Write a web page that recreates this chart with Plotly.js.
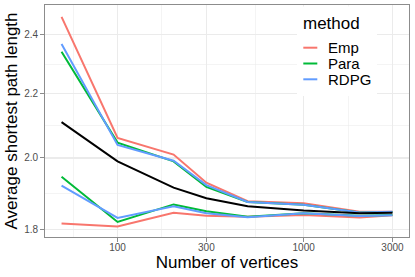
<!DOCTYPE html>
<html><head><meta charset="utf-8">
<script src="https://cdn.plot.ly/plotly-3.0.1.min.js"></script>
<style>html,body{margin:0;padding:0;background:#fff}#chart{width:415px;height:277px}</style>
</head><body><div id="chart"></div>
<script>
// Data
const vertices  = [50, 100, 200, 300, 500, 1000, 2000, 3000];
const empUpper  = [2.465, 2.060, 2.010, 1.928, 1.876, 1.870, 1.847, 1.847];
const empLower  = [1.815, 1.807, 1.844, 1.836, 1.833, 1.838, 1.831, 1.837];
const paraUpper = [2.341, 2.046, 1.990, 1.916, 1.874, 1.866, 1.845, 1.846];
const paraLower = [1.945, 1.819, 1.867, 1.848, 1.833, 1.843, 1.836, 1.838];
const rdpgUpper = [2.368, 2.039, 1.992, 1.921, 1.874, 1.866, 1.845, 1.847];
const rdpgLower = [1.920, 1.830, 1.862, 1.843, 1.832, 1.843, 1.835, 1.837];
const overall   = [2.109, 1.990, 1.914, 1.884, 1.862, 1.850, 1.843, 1.844];
const methods   = ["Emp", "Para", "RDPG"];
const xTicks    = [100, 300, 1000, 3000];
const yTicks    = [1.8, 2.0, 2.2, 2.4];

const colors = {Emp: "#F8766D", Para: "#00BA38", RDPG: "#619CFF"};
const series = {Emp: [empUpper, empLower], Para: [paraUpper, paraLower], RDPG: [rdpgUpper, rdpgLower]};

const traces = [];
methods.forEach(m => {
  series[m].forEach(vals => {
    traces.push({x: vertices, y: vals, type: "scatter", mode: "lines", name: m,
      line: {color: colors[m], width: 2}, showlegend: false, hoverinfo: "skip"});
  });
});
traces.push({x: vertices, y: overall, type: "scatter", mode: "lines", name: "overall",
  line: {color: "#000000", width: 2}, showlegend: false, hoverinfo: "skip"});

// layout geometry helpers (pixel -> paper)
const L = 45, R = 409, T = 5, B = 237;
const px = x => (x - L) / (R - L);
const py = y => (B - y) / (B - T);

const font = "Liberation Sans, Arial, sans-serif";
const border = "#8c8c8c";
const grid = "#EBEBEB";

const shapes = [
  {type: "rect", xref: "paper", yref: "paper", x0: px(297), x1: px(377), y0: py(96), y1: py(6.5),
   fillcolor: "#ffffff", line: {width: 0}, layer: "above"}
];
const legendY = [47.7, 63.5, 79.3];
methods.forEach((m, i) => {
  shapes.push({type: "line", xref: "paper", yref: "paper", x0: px(303.3), x1: px(317.3),
    y0: py(legendY[i]), y1: py(legendY[i]), line: {color: colors[m], width: 2}, layer: "above"});
});
const annotations = [
  {text: "method", xref: "paper", yref: "paper", x: px(300.7), y: py(23.4), xanchor: "left", yanchor: "middle",
   showarrow: false, font: {family: font, size: 17, color: "#000"}}
];
methods.forEach((m, i) => {
  annotations.push({text: m, xref: "paper", yref: "paper", x: px(326.3), y: py(legendY[i]),
    xanchor: "left", yanchor: "middle", showarrow: false, font: {family: font, size: 15, color: "#000"}});
});

const layout = {
  width: 415, height: 277,
  margin: {l: L, r: 415 - R, t: T, b: 277 - B},
  paper_bgcolor: "#fff", plot_bgcolor: "#fff",
  font: {family: font},
  showlegend: false,
  xaxis: {
    type: "log", range: [1.61006, 3.56603],
    tickmode: "array", tickvals: xTicks, ticktext: xTicks.map(String),
    ticks: "outside", ticklen: 3.5, tickwidth: 1, tickcolor: border,
    ticklabelstandoff: -3,
    showline: true, linecolor: border, linewidth: 1.3, mirror: true,
    showgrid: true, gridcolor: grid, gridwidth: 1.07, zeroline: false,
    minor: {tickmode: "array", tickvals: [57.7, 173.2, 547.7, 1732], showgrid: true, gridcolor: grid, gridwidth: 0.55, ticks: ""},
    tickfont: {family: font, size: 10, color: "#4D4D4D"},
    title: {text: "Number of vertices", font: {family: font, size: 17, color: "#000"}, standoff: 1}
  },
  yaxis: {
    type: "log", range: [0.25017, 0.39949],
    tickmode: "array", tickvals: yTicks, ticktext: yTicks.map(v => v.toFixed(1)),
    ticks: "outside", ticklen: 3.5, tickwidth: 1, tickcolor: border,
    showline: true, linecolor: border, linewidth: 1.3, mirror: true,
    showgrid: true, gridcolor: grid, gridwidth: 1.07, zeroline: false,
    minor: {tickmode: "array", tickvals: [1.8974, 2.0976, 2.2978], showgrid: true, gridcolor: grid, gridwidth: 0.55, ticks: ""},
    tickfont: {family: font, size: 10, color: "#4D4D4D"},
    title: {text: "Average shortest path length", font: {family: font, size: 17, color: "#000"}, standoff: 2}
  },
  shapes: shapes,
  annotations: annotations
};

Plotly.newPlot("chart", traces, layout, {staticPlot: true, displayModeBar: false});
</script>
</body></html>
